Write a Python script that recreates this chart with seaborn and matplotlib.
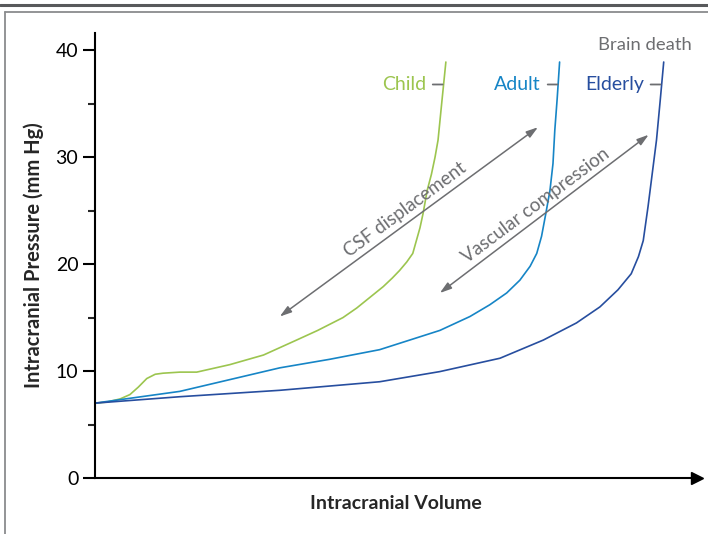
import numpy as np
import pandas as pd
import matplotlib
matplotlib.use("Agg")
import matplotlib.pyplot as plt
from matplotlib.lines import Line2D
import seaborn as sns

# Data (volume in arbitrary units 0-100)
volume_child = [0, 2.0, 4.2, 5.8, 7.2, 8.6, 10.0, 11.3, 14.1, 16.9, 22.4, 28.0, 33.5,
                37.0, 41.2, 43.5, 45.7, 47.9, 49.4, 50.6, 51.8, 52.8, 53.4, 54.0,
                54.5, 55.2, 55.9, 56.5, 57.0, 57.6, 58.3]
pressure_child = [7.0, 7.1, 7.4, 7.8, 8.5, 9.3, 9.7, 9.8, 9.9, 9.9, 10.6, 11.5, 12.9,
                  13.8, 15.0, 15.9, 16.9, 17.9, 18.7, 19.4, 20.2, 21.0, 22.2, 23.4,
                  24.7, 26.9, 28.4, 30.0, 31.6, 35.0, 38.9]

volume_adult = [0, 14.1, 22.4, 30.7, 39.0, 47.3, 52.3, 57.3, 62.3, 65.6, 68.4, 70.6,
                72.3, 73.4, 74.2, 74.9, 75.6, 76.1, 76.4, 76.8, 77.2]
pressure_adult = [7.0, 8.1, 9.2, 10.3, 11.1, 12.0, 12.9, 13.8, 15.1, 16.2, 17.3, 18.5,
                  19.8, 21.0, 22.6, 24.7, 26.9, 29.4, 32.5, 35.5, 38.9]

volume_elderly = [0, 14.1, 30.7, 47.3, 57.3, 67.3, 74.5, 80.0, 83.9, 86.9, 89.1, 90.3,
                  91.1, 91.9, 92.6, 93.3, 93.9, 94.5]
pressure_elderly = [7.0, 7.6, 8.2, 9.0, 9.95, 11.2, 12.9, 14.5, 16.0, 17.6, 19.1, 20.7,
                    22.2, 25.4, 28.5, 31.6, 35.2, 38.9]

groups = ["Child", "Adult", "Elderly"]
colors = {"Child": "#9cc54f", "Adult": "#1685c6", "Elderly": "#274e9f"}
gray = "#6d6e71"

# label anchor points (where the dash meets each curve)
label_y = 36.8
label_x = {"Child": 58.0, "Adult": 77.1, "Elderly": 94.2}

# double arrows (start, end) and their captions
csf_arrow = [(30.7, 15.1), (73.6, 32.8)]
vasc_arrow = [(57.3, 17.3), (92.0, 32.1)]
csf_text = (51.5, 25.1)
vasc_text = (73.3, 25.5)

df = pd.concat([
    pd.DataFrame({"volume": volume_child, "pressure": pressure_child, "group": "Child"}),
    pd.DataFrame({"volume": volume_adult, "pressure": pressure_adult, "group": "Adult"}),
    pd.DataFrame({"volume": volume_elderly, "pressure": pressure_elderly, "group": "Elderly"}),
])

sns.set_style("white")
plt.rcParams["font.family"] = ["Lato", "DejaVu Sans"]

fig = plt.figure(figsize=(7.08, 5.34), dpi=100)
ax = fig.add_axes([0.1342, 0.1049, 0.850, 0.833])

sns.lineplot(data=df, x="volume", y="pressure", hue="group", hue_order=groups,
             palette=colors, estimator=None, sort=False, linewidth=1.2,
             legend=False, ax=ax)
for ln in ax.get_lines():
    ln.set_solid_joinstyle("round")

ax.set_xlim(0, 100)
ax.set_ylim(0, 41.6)

# axes styling
for s in ["top", "right"]:
    ax.spines[s].set_visible(False)
for s in ["left", "bottom"]:
    ax.spines[s].set_linewidth(1.5)
    ax.spines[s].set_color("black")
ax.spines["bottom"].set_bounds(0, 99)
ax.plot(1, 0, marker=">", color="black", markersize=8, transform=ax.get_yaxis_transform(),
        clip_on=False)

ax.set_xticks([])
ax.set_yticks([0, 10, 20, 30, 40])
ax.set_yticks([5, 15, 25, 35], minor=True)
ax.tick_params(axis="y", which="major", length=9, width=1.5, direction="out",
               labelsize=14, pad=3, left=True, colors="black")
ax.tick_params(axis="y", which="minor", length=5, width=1.5, direction="out", left=True)

ax.set_xlabel("Intracranial Volume", fontsize=14, fontweight="bold", labelpad=12)
ax.set_ylabel("Intracranial Pressure (mm Hg)", fontsize=14.5, fontweight="bold", labelpad=8)

# curve labels with small dashes
for g in groups:
    ax.annotate(g, xy=(label_x[g], label_y), xytext=(-13, 0), textcoords="offset points",
                ha="right", va="center", fontsize=14, color=colors[g],
                arrowprops=dict(arrowstyle="-", color=gray, lw=1.3, shrinkA=2.5, shrinkB=1))

ax.text(99.2, 40.5, "Brain death", ha="right", va="center", fontsize=13.3, color=gray,
        clip_on=False)

# double-headed arrows
for (a, b) in [csf_arrow, vasc_arrow]:
    ax.annotate("", xy=b, xytext=a,
                arrowprops=dict(arrowstyle="<|-|>,head_length=0.7,head_width=0.22",
                                color=gray, lw=1.1, shrinkA=0, shrinkB=0))

ax.text(*csf_text, "CSF displacement", rotation=36.4, ha="center", va="center",
        fontsize=13.5, color=gray, rotation_mode="anchor")
ax.text(*vasc_text, "Vascular compression", rotation=36.8, ha="center", va="center",
        fontsize=13.5, color=gray, rotation_mode="anchor")

# figure frame lines
fig.add_artist(Line2D([0, 1], [1 - 5.3 / 534] * 2, color="#58595b", lw=2.2))
fig.add_artist(Line2D([4.5 / 708, 1], [1 - 11.8 / 534] * 2, color="#8a8b8d", lw=1.3))
fig.add_artist(Line2D([4.5 / 708] * 2, [0, 1 - 11.8 / 534], color="#8a8b8d", lw=1.3))

fig.savefig("out.png", dpi=100)
